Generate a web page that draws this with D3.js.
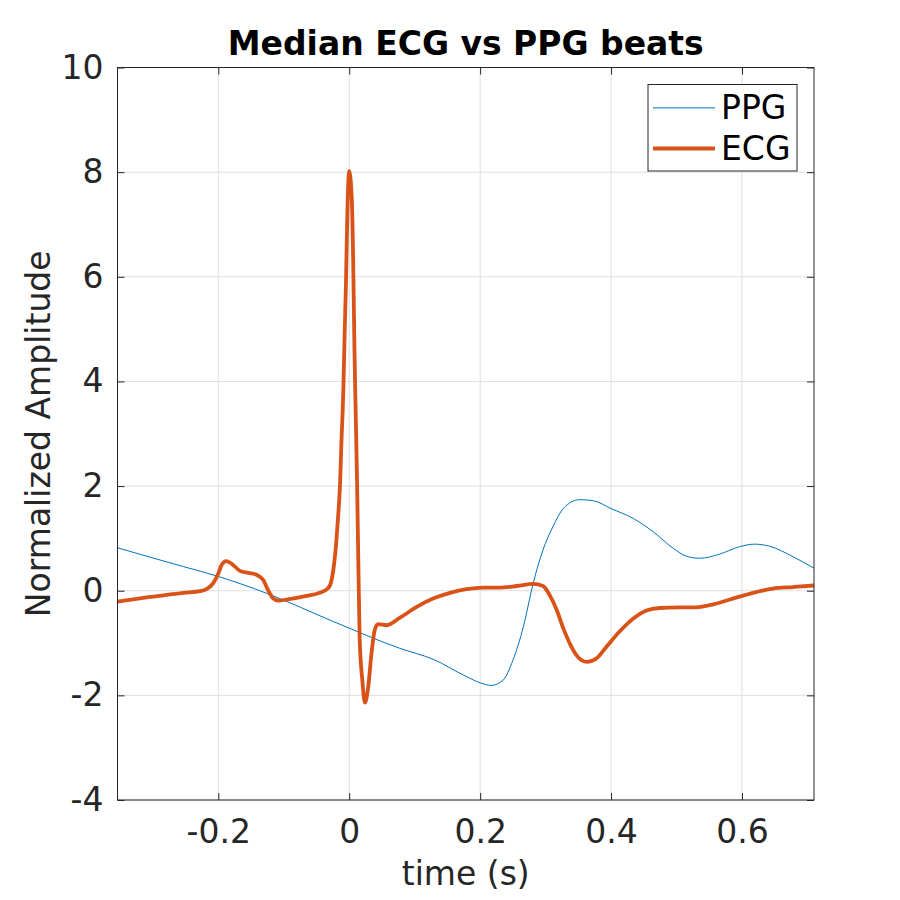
<!DOCTYPE html>
<html>
<head>
<meta charset="utf-8">
<script src="https://cdn.jsdelivr.net/npm/d3@7"></script>
<style>
  body { margin: 0; background: #fff; }
  text { font-family: "DejaVu Sans", sans-serif; }
</style>
</head>
<body>
<svg id="vis" width="900" height="900"></svg>
<script>
// values: [time (s), amplitude]
const ppg = [
  [-0.354, 0.82], [-0.304, 0.64], [-0.253, 0.46], [-0.202, 0.28], [-0.126, -0.05],
  [-0.024, -0.59], [0.077, -1.10], [0.128, -1.31], [0.179, -1.64], [0.2, -1.76],
  [0.217, -1.81], [0.235, -1.71], [0.25, -1.33], [0.266, -0.69], [0.281, 0.14],
  [0.296, 0.78], [0.311, 1.22], [0.327, 1.57], [0.352, 1.74], [0.373, 1.72],
  [0.4, 1.57], [0.434, 1.38], [0.464, 1.13], [0.495, 0.81], [0.515, 0.66],
  [0.535, 0.62], [0.566, 0.70], [0.596, 0.84], [0.619, 0.89], [0.642, 0.85],
  [0.678, 0.65], [0.71, 0.43]
]
const ecg = [
  [-0.354, -0.21], [-0.304, -0.12], [-0.253, -0.04], [-0.228, -0.01], [-0.218, 0.03],
  [-0.208, 0.14], [-0.2, 0.33], [-0.195, 0.49], [-0.188, 0.565], [-0.18, 0.52],
  [-0.167, 0.38], [-0.154, 0.34], [-0.141, 0.30], [-0.131, 0.20], [-0.124, 0.01],
  [-0.116, -0.15], [-0.108, -0.19], [-0.096, -0.17], [-0.065, -0.10], [-0.045, -0.04],
  [-0.032, 0.05], [-0.027, 0.20], [-0.023, 0.52], [-0.02, 0.90], [-0.017, 1.41],
  [-0.014, 2.05], [-0.012, 2.81], [-0.009, 3.83], [-0.007, 4.92], [-0.005, 5.87],
  [-0.003, 7.14], [0.0, 8.02], [0.004, 7.46], [0.006, 6.32], [0.008, 4.60],
  [0.01, 3.32], [0.012, 2.05], [0.014, 0.46], [0.016, -0.94], [0.02, -1.71],
  [0.024, -2.14], [0.029, -1.84], [0.034, -1.20], [0.039, -0.75], [0.044, -0.64],
  [0.057, -0.66], [0.077, -0.52], [0.103, -0.31], [0.128, -0.15], [0.154, -0.04],
  [0.179, 0.03], [0.205, 0.06], [0.23, 0.06], [0.256, 0.09], [0.281, 0.13],
  [0.296, 0.09], [0.306, -0.08], [0.317, -0.37], [0.327, -0.72], [0.337, -1.01],
  [0.347, -1.23], [0.363, -1.36], [0.378, -1.29], [0.393, -1.07], [0.413, -0.78],
  [0.434, -0.53], [0.454, -0.38], [0.474, -0.33], [0.505, -0.32], [0.525, -0.32],
  [0.556, -0.26], [0.586, -0.15], [0.617, -0.04], [0.647, 0.04], [0.678, 0.07],
  [0.71, 0.10]
]
const xTicks = [-0.2, 0, 0.2, 0.4, 0.6]
const yTicks = [-4, -2, 0, 2, 4, 6, 8, 10]
const seriesNames = ["PPG", "ECG"]

const vis = d3.select("#vis")
const margin = { top: 67.5, right: 86, bottom: 100, left: 117.5 }
const width = 900 - margin.left - margin.right
const height = 900 - margin.top - margin.bottom
const axisColor = "#262626"
const colors = ["#0072BD", "#D95319"]
const fontSize = "33px"

const xScale = d3.scaleLinear().domain([-0.354, 0.71]).range([0, width])
const yScale = d3.scaleLinear().domain([-4, 10]).range([height, 0])

const g = vis.append("g").attr("transform", `translate(${margin.left},${margin.top})`)

// grid
g.append("g").selectAll("line").data(xTicks).enter().append("line")
  .attr("x1", d => xScale(d)).attr("x2", d => xScale(d))
  .attr("y1", 0).attr("y2", height)
  .attr("stroke", "#dfdfdf").attr("stroke-width", 1)
g.append("g").selectAll("line").data(yTicks).enter().append("line")
  .attr("x1", 0).attr("x2", width)
  .attr("y1", d => yScale(d)).attr("y2", d => yScale(d))
  .attr("stroke", "#dfdfdf").attr("stroke-width", 1)

// lines
const line = d3.line().x(d => xScale(d[0])).y(d => yScale(d[1])).curve(d3.curveMonotoneX)
g.append("path").datum(ppg).attr("d", line)
  .attr("fill", "none").attr("stroke", colors[0]).attr("stroke-width", 1)
g.append("path").datum(ecg).attr("d", line)
  .attr("fill", "none").attr("stroke", colors[1]).attr("stroke-width", 3.8)

// axes (ticks inside, on all four sides)
const styleAxis = sel => {
  sel.select(".domain").remove()
  sel.selectAll(".tick line").attr("stroke", axisColor)
  sel.selectAll(".tick text").attr("fill", axisColor).style("font-size", fontSize)
}
const fmt = d => String(d)
g.append("g").attr("transform", `translate(0,${height})`)
  .call(d3.axisBottom(xScale).tickValues(xTicks).tickFormat(fmt).tickSizeInner(-7).tickPadding(20))
  .call(styleAxis)
g.append("g")
  .call(d3.axisLeft(yScale).tickValues(yTicks).tickFormat(fmt).tickSizeInner(-7).tickPadding(14))
  .call(styleAxis)
g.append("g")
  .call(d3.axisTop(xScale).tickValues(xTicks).tickFormat("").tickSizeInner(-7))
  .call(styleAxis)
g.append("g").attr("transform", `translate(${width},0)`)
  .call(d3.axisRight(yScale).tickValues(yTicks).tickFormat("").tickSizeInner(-7))
  .call(styleAxis)
g.append("rect").attr("width", width).attr("height", height)
  .attr("fill", "none").attr("stroke", axisColor).attr("stroke-width", 1)

// labels
vis.append("text").attr("x", margin.left + width / 2).attr("y", 55)
  .attr("text-anchor", "middle").style("font-size", fontSize).style("font-weight", "bold")
  .attr("fill", "#000").text("Median ECG vs PPG beats")
vis.append("text").attr("x", margin.left + width / 2).attr("y", 885)
  .attr("text-anchor", "middle").style("font-size", fontSize).attr("fill", axisColor)
  .text("time (s)")
vis.append("text")
  .attr("transform", `translate(50,${margin.top + height / 2}) rotate(-90)`)
  .attr("text-anchor", "middle").style("font-size", fontSize).attr("fill", axisColor)
  .text("Normalized Amplitude")

// legend
const legend = vis.append("g").attr("transform", "translate(648,84.5)")
legend.append("rect").attr("width", 149).attr("height", 86.5)
  .attr("fill", "#fff").attr("stroke", axisColor).attr("stroke-width", 1)
seriesNames.forEach((name, i) => {
  const cy = 23.4 + i * 40.6
  legend.append("line").attr("x1", 5).attr("x2", 67).attr("y1", cy).attr("y2", cy)
    .attr("stroke", colors[i]).attr("stroke-width", i === 0 ? 1 : 4)
  legend.append("text").attr("x", 73).attr("y", cy + 11.5)
    .style("font-size", fontSize).attr("fill", "#000").text(name)
})
</script>
</body>
</html>
